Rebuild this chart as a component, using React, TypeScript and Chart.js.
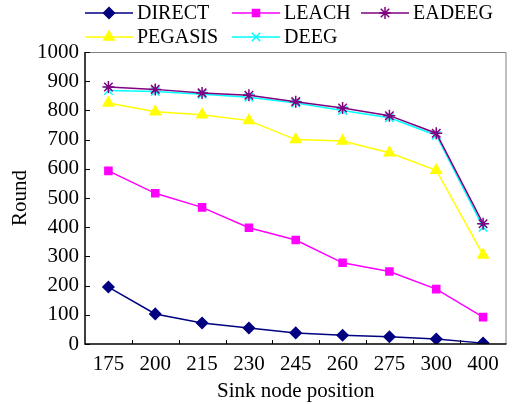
import React, { useEffect, useRef } from "react";
import { Chart, registerables } from "chart.js";
import { drawPoint } from "chart.js/helpers";
Chart.register(...registerables);

const categories = ["175", "200", "215", "230", "245", "260", "275", "300", "400"];
const direct = [195, 103, 72, 55, 38, 30, 25, 17, 3];
const leach = [593, 516, 468, 398, 356, 278, 248, 188, 92];
const pegasis = [825, 795, 785, 765, 700, 695, 655, 595, 305];
const eadeeg = [880, 872, 860, 852, 830, 808, 782, 722, 412];
const deeg = [868, 865, 855, 845, 825, 800, 775, 715, 400];
const yMin = 0;
const yMax = 1000;
const yStep = 100;

const FONT = "'Liberation Serif', 'Times New Roman', serif";

const seriesDefs = [
  { label: "DIRECT", data: direct, color: "#000080", style: "rectRot", radius: 5.5, order: 1 },
  { label: "LEACH", data: leach, color: "#FF00FF", style: "rect", radius: 5, order: 2 },
  { label: "EADEEG", data: eadeeg, color: "#800080", style: "star", radius: 6, order: 0 },
  { label: "PEGASIS", data: pegasis, color: "#FFFF00", style: "triangle", radius: 6, order: 3 },
  { label: "DEEG", data: deeg, color: "#00FFFF", style: "crossRot", radius: 6, order: 4 },
];

const legendPos = [
  { x: 85, y: 13 },
  { x: 232, y: 13 },
  { x: 361, y: 13 },
  { x: 85, y: 37 },
  { x: 232, y: 37 },
];

const framePlugin = {
  id: "frame",
  afterDraw(chart: any) {
    const ctx = chart.ctx;
    const { left, right, top, bottom } = chart.chartArea;
    const xs = chart.scales.x;
    const ys = chart.scales.y;
    ctx.save();
    ctx.strokeStyle = "#808080";
    ctx.lineWidth = 1;
    ctx.beginPath();
    ctx.moveTo(left, top + 0.5);
    ctx.lineTo(right - 0.5, top + 0.5);
    ctx.lineTo(right - 0.5, bottom);
    ctx.stroke();
    ctx.strokeStyle = "#000";
    ctx.lineWidth = 1.5;
    ctx.beginPath();
    ctx.moveTo(left, top);
    ctx.lineTo(left, bottom);
    ctx.lineTo(right, bottom);
    ctx.stroke();
    ctx.lineWidth = 1;
    ctx.beginPath();
    for (let i = 0; i < categories.length - 1; i++) {
      const x = Math.round((xs.getPixelForTick(i) + xs.getPixelForTick(i + 1)) / 2) + 0.5;
      ctx.moveTo(x, bottom);
      ctx.lineTo(x, bottom - 4);
    }
    for (let v = yMin; v <= yMax; v += yStep) {
      const y = Math.round(ys.getPixelForValue(v)) + 0.5;
      ctx.moveTo(left, y);
      ctx.lineTo(left + 5, y);
    }
    ctx.stroke();
    ctx.font = `20px ${FONT}`;
    ctx.textBaseline = "middle";
    ctx.textAlign = "left";
    seriesDefs.forEach((s, i) => {
      const p = legendPos[i];
      ctx.strokeStyle = s.color;
      ctx.lineWidth = 1.5;
      ctx.beginPath();
      ctx.moveTo(p.x, p.y);
      ctx.lineTo(p.x + 48, p.y);
      ctx.stroke();
      ctx.fillStyle = s.color;
      ctx.strokeStyle = s.color;
      ctx.lineWidth = 1.5;
      drawPoint(ctx, { pointStyle: s.style, radius: s.radius, rotation: 0, borderWidth: 1.5 } as any, p.x + 24, p.y);
      ctx.fillStyle = "#000";
      ctx.fillText(s.label, p.x + 52, p.y + 1);
    });
    ctx.restore();
  },
};

export default function App() {
  const ref = useRef<HTMLCanvasElement>(null);
  useEffect(() => {
    document.body.style.margin = "0";
    const chart = new Chart(ref.current!, {
      type: "line",
      data: {
        labels: categories,
        datasets: seriesDefs.map((s) => ({
          label: s.label,
          data: s.data,
          borderColor: s.color,
          backgroundColor: s.color,
          borderWidth: 1.5,
          pointStyle: s.style as any,
          pointRadius: s.radius,
          pointBorderWidth: 1.5,
          pointBorderColor: s.color,
          pointBackgroundColor: s.color,
          order: s.order,
          tension: 0,
        })),
      },
      options: {
        animation: false,
        responsive: false,
        devicePixelRatio: 1,
        layout: { padding: { top: 52, right: 4, left: 8, bottom: 0 } },
        plugins: { legend: { display: false }, tooltip: { enabled: false } },
        scales: {
          x: {
            offset: true,
            grid: { display: false, drawTicks: false },
            border: { display: false },
            ticks: { color: "#000", font: { family: FONT, size: 21 }, padding: 8 },
            title: {
              display: true,
              text: "Sink node position",
              color: "#000",
              font: { family: FONT, size: 21 },
              padding: { top: 2, bottom: 0 },
            },
            afterFit: (s: any) => {
              s.height = 60;
            },
          },
          y: {
            min: yMin,
            max: yMax,
            ticks: {
              stepSize: yStep,
              color: "#000",
              font: { family: FONT, size: 21 },
              padding: 6,
              callback: (v: any) => String(v),
            },
            grid: { display: false, drawTicks: false },
            border: { display: false },
            title: {
              display: true,
              text: "Round",
              color: "#000",
              font: { family: FONT, size: 21 },
              padding: { top: 0, bottom: 0 },
            },
            afterFit: (s: any) => {
              s.width = 77;
            },
          },
        },
      },
      plugins: [framePlugin],
    });
    return () => chart.destroy();
  }, []);
  return (
    <div style={{ width: 514, height: 404 }}>
      <canvas ref={ref} width={514} height={404} />
    </div>
  );
}
